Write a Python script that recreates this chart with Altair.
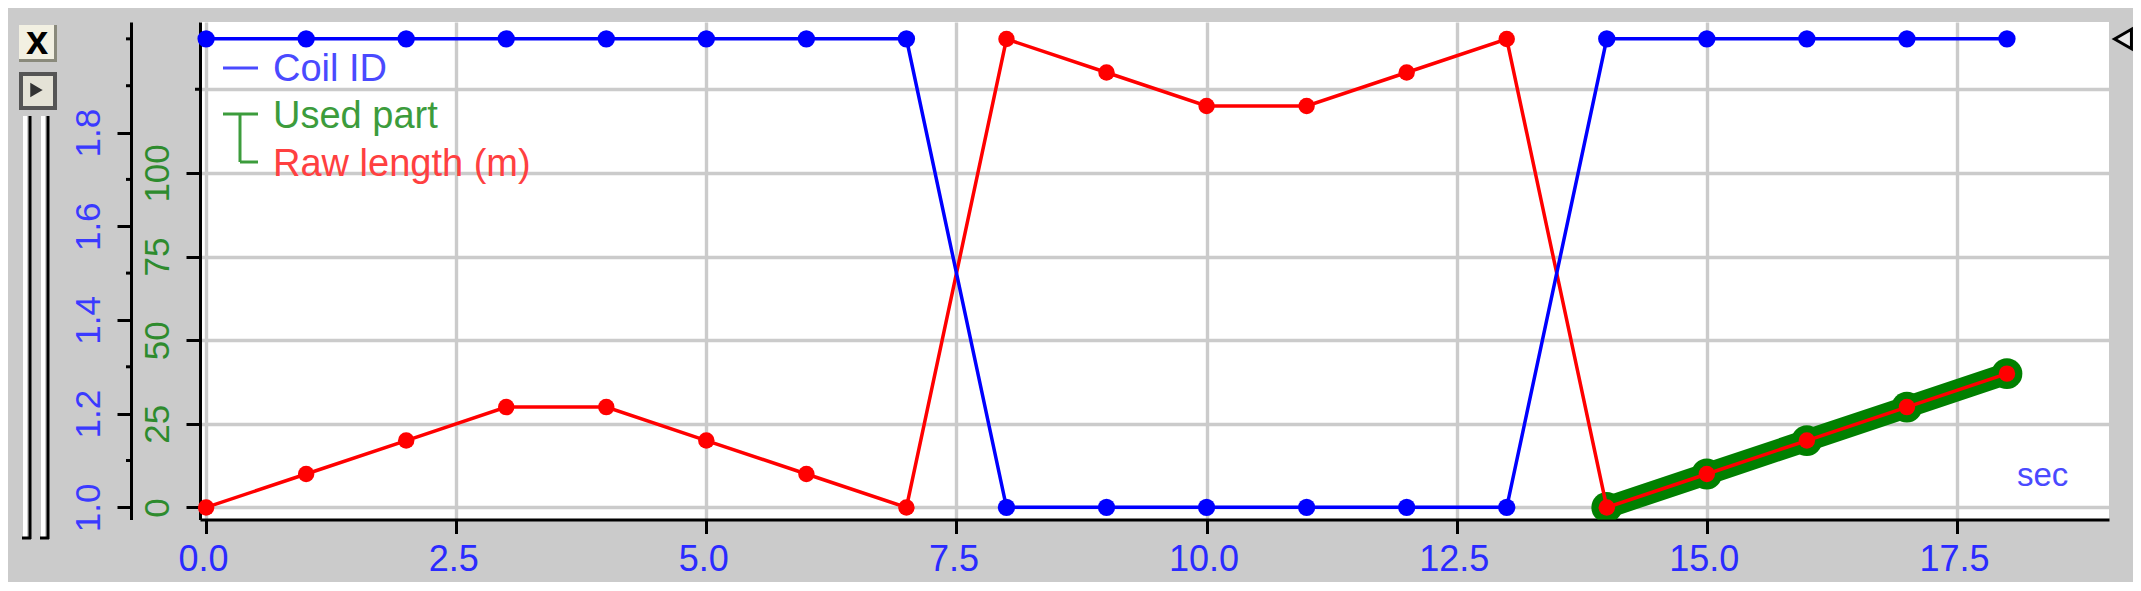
import altair as alt
import pandas as pd

seconds = [0, 1, 2, 3, 4, 5, 6, 7, 8, 9, 10, 11, 12, 13, 14, 15, 16, 17, 18]
coil_id = [2, 2, 2, 2, 2, 2, 2, 2, 1, 1, 1, 1, 1, 1, 2, 2, 2, 2, 2]
raw_length = [0, 10, 20, 30, 30, 20, 10, 0, 140, 130, 120, 120, 130, 140, 0, 10, 20, 30, 40]
used_seconds = [14, 15, 16, 17, 18]
used_part = [0, 10, 20, 30, 40]
x_ticks = [0, 2.5, 5, 7.5, 10, 12.5, 15, 17.5]
green_ticks = [0, 25, 50, 75, 100, 125]
blue_ticks = [1.0, 1.2, 1.4, 1.6, 1.8]
blue_minor = [1.1, 1.3, 1.5, 1.7, 1.9, 2.0]
green_minor = [125]

FONT = "Liberation Sans"
BG = "#CBCBCB"
main = pd.DataFrame({"t": seconds, "coil": coil_id, "raw": raw_length})
used = pd.DataFrame({"t": used_seconds, "used": used_part})

xscale = alt.Scale(domain=[-0.061, 19.02], nice=False, zero=False)
gscale = alt.Scale(domain=[-3.6, 145.1], nice=False, zero=False)
bscale = alt.Scale(domain=[0.974, 2.036], nice=False, zero=False)

xaxis = alt.Axis(values=x_ticks, format=".1f", title=None, grid=True, gridColor=BG, gridWidth=3.4,
                 domainColor="black", domainWidth=3, tickColor="black", tickWidth=3, tickSize=14,
                 labelColor="#2A2AFF", labelFont=FONT, labelFontSize=36, labelPadding=9, labelOffset=-3,
                 labelOverlap=False, labelFlush=False)
gaxis = alt.Axis(values=green_ticks, orient="left", title=None, grid=True, gridColor=BG, gridWidth=3.4,
                 domainColor="black", domainWidth=3, tickWidth=3, tickSize=14,
                 tickColor=alt.condition("datum.value > 100", alt.value("transparent"), alt.value("black")),
                 labelExpr="datum.value > 100 ? '' : datum.label",
                 labelColor="#2E8B2E", labelFont=FONT, labelFontSize=35, labelAngle=270,
                 labelAlign="center", labelBaseline="alphabetic", labelPadding=18, labelOverlap=False)
baxis = alt.Axis(values=blue_ticks, orient="left", format=".1f", title=None, grid=False, offset=69,
                 domainColor="black", domainWidth=3, tickColor="black", tickWidth=3, tickSize=14,
                 labelColor="#3A3AFF", labelFont=FONT, labelFontSize=35, labelAngle=270,
                 labelAlign="center", labelBaseline="alphabetic", labelPadding=18, labelOverlap=False)

X = alt.X("t:Q", scale=xscale, axis=xaxis)
Yg = alt.Y("raw:Q", scale=gscale, axis=gaxis)
Yg0 = alt.Y("raw:Q", scale=gscale, axis=None)
Yu = alt.Y("used:Q", scale=gscale, axis=None)
Yb = alt.Y("coil:Q", scale=bscale, axis=baxis)
Yb0 = alt.Y("coil:Q", scale=bscale, axis=None)

data_layers = [
    alt.Chart(main).mark_line(opacity=0).encode(x=X, y=Yg),
    alt.Chart(used).mark_line(color="#008000", strokeWidth=22, clip=True).encode(x=X, y=Yu),
    alt.Chart(used).mark_circle(color="#008000", opacity=1, size=950, clip=True).encode(x=X, y=Yu),
    alt.Chart(main).mark_line(color="#FF0000", strokeWidth=3.5).encode(x=X, y=Yg0),
    alt.Chart(main).mark_circle(color="#FF0000", opacity=1, size=270).encode(x=X, y=Yg0),
    alt.Chart(pd.DataFrame({"v": green_minor})).mark_rule(color="black", strokeWidth=3).encode(
        x=alt.value(-5), x2=alt.value(0), y=alt.Y("v:Q", scale=gscale, axis=None)),
    alt.Chart(main).mark_line(color="#0000FF", strokeWidth=3.5).encode(x=X, y=Yb),
    alt.Chart(main).mark_circle(color="#0000FF", opacity=1, size=300).encode(x=X, y=Yb0),
    alt.Chart(pd.DataFrame({"v": blue_minor})).mark_rule(color="black", strokeWidth=3).encode(
        x=alt.value(-74), x2=alt.value(-69), y=alt.Y("v:Q", scale=bscale, axis=None)),
]

ONE = alt.Data(values=[{"a": 0}])
OX, OY = 200, 22  # plot origin on the page


def seg(x1, y1, x2, y2, color="black", w=3):
    return alt.Chart(ONE).mark_rule(color=color, strokeWidth=w).encode(
        x=alt.value(x1 - OX), x2=alt.value(x2 - OX), y=alt.value(y1 - OY), y2=alt.value(y2 - OY))


def box(x1, y1, x2, y2, color):
    return alt.Chart(ONE).mark_rect(color=color).encode(
        x=alt.value(x1 - OX), x2=alt.value(x2 - OX), y=alt.value(y1 - OY), y2=alt.value(y2 - OY))


def label(x, y, s, color, size=38, **kw):
    return alt.Chart(ONE).mark_text(color=color, font=FONT, fontSize=size, align="left",
                                    baseline="alphabetic", **kw).encode(
        x=alt.value(x - OX), y=alt.value(y - OY), text=alt.value(s))


def glyph(x, y, shape, size, fill, stroke, w=2):
    return alt.Chart(ONE).mark_point(shape=shape, size=size, fill=fill, stroke=stroke, strokeWidth=w,
                                     filled=True, opacity=1).encode(
        x=alt.value(x - OX), y=alt.value(y - OY))


legend = [
    seg(223, 68, 258, 68, "#4A4AFF"),
    label(273, 81, "Coil ID", "#4A4AFF"),
    seg(223, 114, 258, 114, "#3C9C3C"),
    seg(240, 114, 240, 162, "#3C9C3C"),
    seg(240, 162, 258, 162, "#3C9C3C"),
    label(273, 128, "Used part", "#3C9C3C"),
    label(273, 176, "Raw length (m)", "#FF4040"),
    label(2017, 486, "sec", "#4A4AFF", size=33),
]
widgets = [
    box(19, 25, 57, 62, "#8A8A7C"),
    box(19, 25, 54, 59, "#F2F0E2"),
    label(26, 54, "x", "black", size=40, fontWeight="bold"),
    box(19, 72, 57, 110, "#555555"),
    box(23, 76, 53, 106, "#E4E2D6"),
    glyph(36, 90, "triangle-right", 120, "#333333", "#333333"),
    seg(25, 116, 25, 538, "white", 4),
    seg(30, 116, 30, 539, "black", 3),
    seg(22, 538, 31, 538, "black", 3),
    seg(43, 116, 43, 538, "white", 4),
    seg(48, 116, 48, 539, "black", 3),
    seg(40, 538, 49, 538, "black", 3),
    glyph(2123, 39, "triangle-left", 380, "#E8E8E8", "black", 3),
]

chart = alt.layer(*data_layers, *legend, *widgets).resolve_scale(y="independent").properties(
    width=1909, height=497.5,
    background=BG,
    padding={"left": 192, "top": 14, "right": 24, "bottom": 62},
    autosize=alt.AutoSizeParams(type="none"),
).configure_view(strokeWidth=0, fill="white")

chart.save("out.html", embed_options={"renderer": "svg", "actions": False})
